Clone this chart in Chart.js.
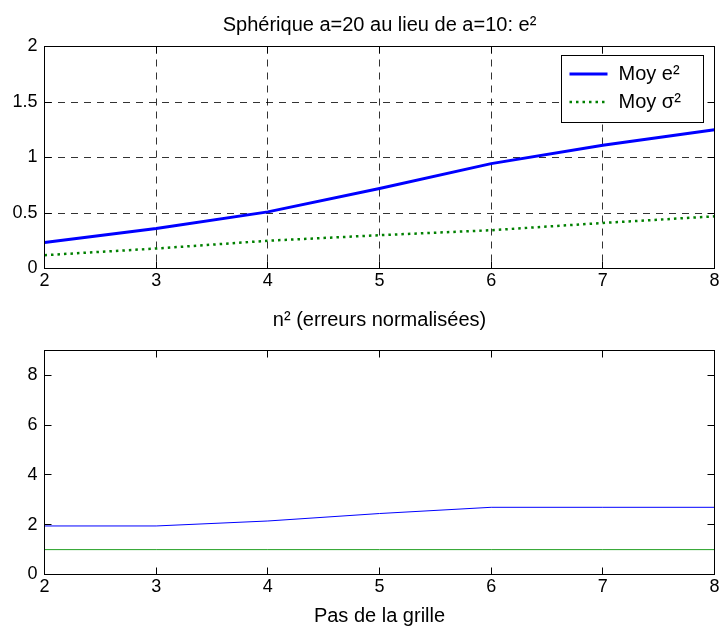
<!DOCTYPE html>
<html>
<head>
<meta charset="utf-8">
<script src="https://cdn.jsdelivr.net/npm/chart.js@4.4.1/dist/chart.umd.min.js"></script>
<style>
  html, body { margin: 0; padding: 0; background: #fff; }
  #wrap { position: relative; width: 720px; height: 628px; }
  .pane { position: absolute; left: 0; width: 720px; }
</style>
</head>
<body>
<div id="wrap">
  <div class="pane" style="top:0;height:300px"><canvas id="errChart"></canvas></div>
  <div class="pane" style="top:300px;height:328px"><canvas id="normChart"></canvas></div>
</div>
<script>
'use strict';

// pas de la grille (axe x commun)
const gridSteps = [2, 3, 4, 5, 6, 7, 8];

// sous-figure 1 : e^2
const meanErr2 = [0.235, 0.36, 0.51, 0.72, 0.945, 1.11, 1.25];
const meanSigma2 = [0.12, 0.18, 0.25, 0.30, 0.345, 0.41, 0.47];
const errTicksY = [0, 0.5, 1, 1.5, 2];

// sous-figure 2 : n^2
const normErr2 = [1.95, 1.95, 2.15, 2.45, 2.7, 2.7, 2.7];
const normRef = [1, 1, 1, 1, 1, 1, 1];
const normTicksY = [0, 2, 4, 6, 8];

Chart.defaults.font.family = "'Liberation Sans', Arial, Helvetica, sans-serif";
Chart.defaults.color = '#000';

function toPoints(xs, ys) {
  return xs.map(function(x, i) {
    return { x: x, y: ys[i] };
  });
}

function fixTicks(values) {
  return function(scale) {
    scale.ticks = values.map(function(v) { return { value: v }; });
  };
}

function plainLabel(value) {
  return String(value);
}

// cadre noir + graduations vers l'interieur, facon matlab
let matlabFrame = {
  id: 'matlabFrame',
  afterDatasetsDraw: function(chart) {
    const ctx = chart.ctx;
    const a = chart.chartArea;
    const tl = 7;
    const xs = chart.scales.x;
    const ys = chart.scales.y;

    ctx.save();
    ctx.strokeStyle = '#000';
    ctx.lineWidth = 1;
    ctx.setLineDash([]);
    ctx.beginPath();
    xs.ticks.forEach(function(t) {
      const px = Math.round(xs.getPixelForValue(t.value) - 0.5) + 0.5;
      ctx.moveTo(px, a.bottom);
      ctx.lineTo(px, a.bottom - tl);
      ctx.moveTo(px, a.top);
      ctx.lineTo(px, a.top + tl);
    });
    ys.ticks.forEach(function(t) {
      const py = Math.round(ys.getPixelForValue(t.value) - 0.5) + 0.5;
      ctx.moveTo(a.left, py);
      ctx.lineTo(a.left + tl, py);
      ctx.moveTo(a.right, py);
      ctx.lineTo(a.right - tl, py);
    });
    ctx.stroke();
    ctx.strokeRect(a.left, a.top, a.right - a.left, a.bottom - a.top);
    ctx.restore();
  }
};

// legende encadree en haut a droite
let boxedLegend = {
  id: 'boxedLegend',
  afterDraw: function(chart, args, opts) {
    if(!opts.show) return;
    const ctx = chart.ctx;
    const a = chart.chartArea;
    const w = 142, h = 67;
    const left = a.right - 12 - w;
    const top = a.top + 8.5;

    ctx.save();
    ctx.fillStyle = '#fff';
    ctx.fillRect(left, top, w, h);
    ctx.strokeStyle = '#000';
    ctx.lineWidth = 1;
    ctx.setLineDash([]);
    ctx.strokeRect(Math.round(left) + 0.5, Math.round(top) + 0.5, w, h);

    chart.data.datasets.forEach(function(ds, i) {
      const y = top + 19 + i * 28;
      ctx.beginPath();
      ctx.strokeStyle = ds.borderColor;
      ctx.lineWidth = ds.borderWidth;
      ctx.setLineDash(ds.borderDash || []);
      ctx.moveTo(left + 9, y);
      ctx.lineTo(left + 47, y);
      ctx.stroke();

      ctx.setLineDash([]);
      ctx.fillStyle = '#000';
      ctx.font = "20px 'Liberation Sans', Arial, sans-serif";
      ctx.textBaseline = 'middle';
      ctx.fillText(ds.label, left + 58, y);
    });
    ctx.restore();
  }
};

function buildOptions(cfg) {
  return {
    responsive: true,
    maintainAspectRatio: false,
    animation: false,
    layout: { padding: { left: 0, right: 5.5, top: 0, bottom: 0 } },
    plugins: {
      legend: { display: false },
      tooltip: { enabled: false },
      title: {
        display: true,
        text: cfg.title,
        fullSize: false,
        color: '#000',
        font: { size: 20, weight: 'normal' },
        padding: cfg.titlePadding
      },
      boxedLegend: { show: cfg.legend }
    },
    scales: {
      x: {
        type: 'linear',
        min: 2,
        max: 8,
        afterBuildTicks: fixTicks(gridSteps),
        afterFit: function(scale) {
          scale.height = cfg.xHeight;
          scale.paddingLeft = 0;
          scale.paddingRight = 0;
        },
        ticks: { font: { size: 18, lineHeight: 1 }, padding: 4, maxRotation: 0, callback: plainLabel },
        grid: {
          display: cfg.grid,
          drawTicks: false,
          color: 'rgba(0,0,0,0.8)',
          lineWidth: 1,
          borderDash: [7, 6]
        },
        border: { display: false, dash: [7, 6] },
        title: {
          display: !!cfg.xTitle,
          text: cfg.xTitle,
          color: '#000',
          font: { size: 20 },
          padding: { top: 0, bottom: 0 }
        }
      },
      y: {
        type: 'linear',
        min: cfg.yMin,
        max: cfg.yMax,
        afterBuildTicks: fixTicks(cfg.yTicks),
        afterFit: function(scale) { scale.width = 44.5; },
        ticks: { font: { size: 18, lineHeight: 1 }, padding: 7, callback: plainLabel },
        grid: {
          display: cfg.grid,
          drawTicks: false,
          color: 'rgba(0,0,0,0.8)',
          lineWidth: 1,
          borderDash: [7, 6]
        },
        border: { display: false, dash: [7, 6] }
      }
    }
  };
}

let errChart = new Chart(document.getElementById('errChart'), {
  type: 'line',
  data: {
    datasets: [
      {
        label: 'Moy e\u00b2',
        data: toPoints(gridSteps, meanErr2),
        borderColor: '#0000ff',
        borderWidth: 3,
        pointRadius: 0,
        tension: 0,
        fill: false
      },
      {
        label: 'Moy \u03c3\u00b2',
        data: toPoints(gridSteps, meanSigma2),
        borderColor: '#008000',
        borderWidth: 2.5,
        borderDash: [2.5, 4],
        pointRadius: 0,
        tension: 0,
        fill: false
      }
    ]
  },
  options: buildOptions({
    title: 'Sph\u00e9rique a=20 au lieu de a=10: e\u00b2',
    titlePadding: { top: 13.8, bottom: 8.7 },
    legend: true,
    grid: true,
    xHeight: 31.5,
    xTitle: '',
    yMin: 0,
    yMax: 2,
    yTicks: errTicksY
  }),
  plugins: [matlabFrame, boxedLegend]
});

let normChart = new Chart(document.getElementById('normChart'), {
  type: 'line',
  data: {
    datasets: [
      {
        label: 'n\u00b2',
        data: toPoints(gridSteps, normErr2),
        borderColor: '#0000ff',
        borderWidth: 1,
        pointRadius: 0,
        tension: 0,
        fill: false
      },
      {
        label: 'r\u00e9f\u00e9rence',
        data: toPoints(gridSteps, normRef),
        borderColor: '#22a022',
        borderWidth: 1,
        pointRadius: 0,
        tension: 0,
        fill: false
      }
    ]
  },
  options: buildOptions({
    title: 'n\u00b2 (erreurs normalis\u00e9es)',
    titlePadding: { top: 8.8, bottom: 17.7 },
    legend: false,
    grid: false,
    xHeight: 53.5,
    xTitle: 'Pas de la grille',
    yMin: 0,
    yMax: 9,
    yTicks: normTicksY
  }),
  plugins: [matlabFrame, boxedLegend]
});
</script>
</body>
</html>
